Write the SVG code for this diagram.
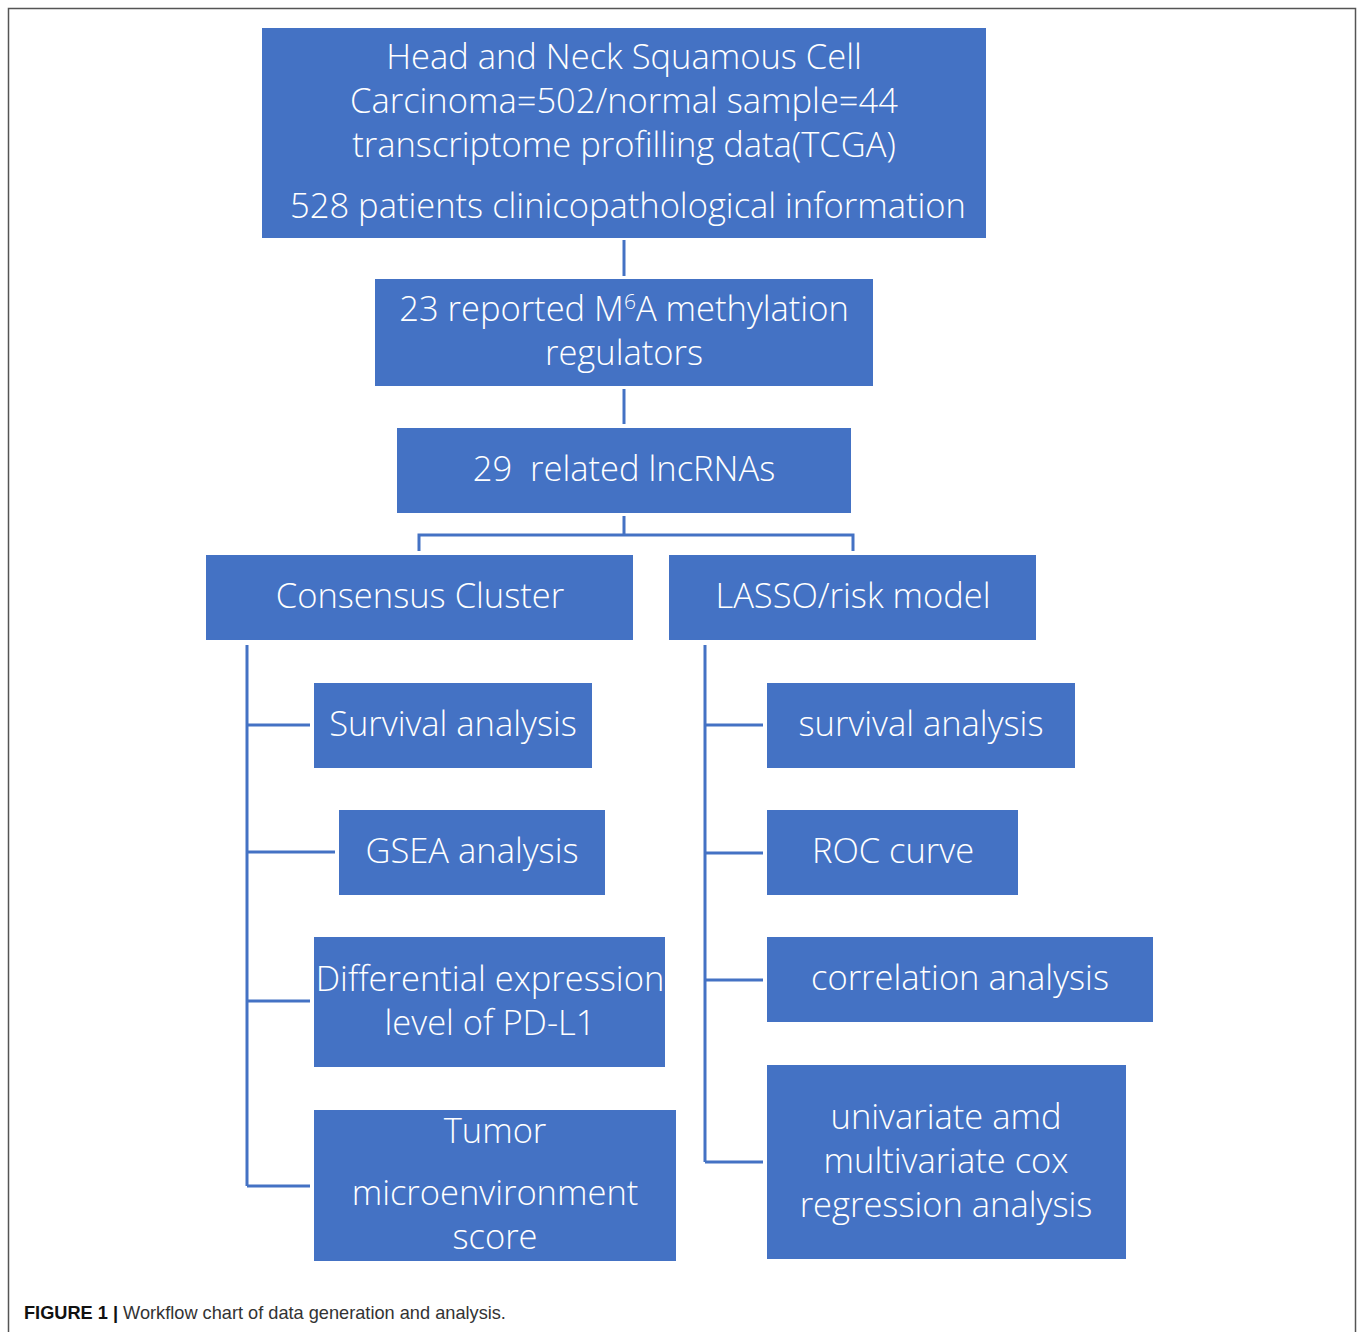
<svg xmlns="http://www.w3.org/2000/svg" width="1358" height="1332" viewBox="0 0 1358 1332">
<style>
.box{fill:#4472C4;}
.t{font-family:"Open Sans","Noto Sans",sans-serif;font-size:34.5px;font-weight:300;fill:#ffffff;text-anchor:middle;}
.c{stroke:#4472C4;stroke-width:3;fill:none;}
.cap{font-family:"Liberation Sans",Arial,sans-serif;font-size:18.2px;fill:#333;}
</style>
<rect x="0" y="0" width="1358" height="1332" fill="#ffffff"/>
<rect x="8.5" y="8.5" width="1347" height="1340" fill="none" stroke="#555" stroke-width="1.5"/>
<g id="connectors">
<path class="c" d="M624 240V276"/>
<path class="c" d="M624 389V424"/>
<path class="c" d="M624 516V535M419 551V535H853V551"/>
<path class="c" d="M247 645V1186M247 725H310M247 852H335M247 1001H310M247 1186H310"/>
<path class="c" d="M705 645V1162M705 725H763M705 853H763M705 980H763M705 1162H763"/>
</g>
<g id="n1"><rect class="box" x="262" y="28" width="724" height="210"/>
<text class="t" x="624" y="69">Head and Neck Squamous Cell</text>
<text class="t" x="624" y="113">Carcinoma=502/normal sample=44</text>
<text class="t" x="624" y="157">transcriptome profilling data(TCGA)</text>
<text class="t" x="628" y="218">528 patients clinicopathological information</text></g>
<g id="n2"><rect class="box" x="375" y="279" width="498" height="107"/>
<text class="t" x="624" y="321">23 reported M<tspan font-size="21" dy="-12">6</tspan><tspan dy="12">A methylation</tspan></text>
<text class="t" x="624" y="365">regulators</text></g>
<g id="n3"><rect class="box" x="397" y="428" width="454" height="85"/>
<text class="t" x="624" y="481" xml:space="preserve">29  related lncRNAs</text></g>
<g id="n4"><rect class="box" x="206" y="555" width="427" height="85"/>
<text class="t" x="420" y="608">Consensus Cluster</text></g>
<g id="n5"><rect class="box" x="669" y="555" width="367" height="85"/>
<text class="t" x="853" y="608">LASSO/risk model</text></g>
<g id="n6"><rect class="box" x="314" y="683" width="278" height="85"/>
<text class="t" x="453" y="736">Survival analysis</text></g>
<g id="n7"><rect class="box" x="339" y="810" width="266" height="85"/>
<text class="t" x="472" y="863">GSEA analysis</text></g>
<g id="n8"><rect class="box" x="314" y="937" width="351" height="130"/>
<text class="t" x="490" y="991">Differential expression</text>
<text class="t" x="490" y="1035">level of PD-L1</text></g>
<g id="n9"><rect class="box" x="314" y="1110" width="362" height="151"/>
<text class="t" x="495" y="1143">Tumor</text>
<text class="t" x="495" y="1205">microenvironment</text>
<text class="t" x="495" y="1249">score</text></g>
<g id="n10"><rect class="box" x="767" y="683" width="308" height="85"/>
<text class="t" x="921" y="736">survival analysis</text></g>
<g id="n11"><rect class="box" x="767" y="810" width="251" height="85"/>
<text class="t" x="893" y="863">ROC curve</text></g>
<g id="n12"><rect class="box" x="767" y="937" width="386" height="85"/>
<text class="t" x="960" y="990">correlation analysis</text></g>
<g id="n13"><rect class="box" x="767" y="1065" width="359" height="194"/>
<text class="t" x="946" y="1129">univariate amd</text>
<text class="t" x="946" y="1173">multivariate cox</text>
<text class="t" x="946" y="1217">regression analysis</text></g>
<text class="cap" x="24" y="1319"><tspan font-weight="bold" fill="#111">FIGURE 1 |</tspan> Workflow chart of data generation and analysis.</text>
</svg>
